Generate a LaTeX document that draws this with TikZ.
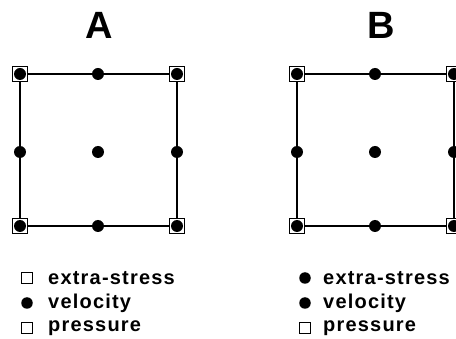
\documentclass[tikz,border=0pt]{standalone}
\usepackage{fontspec}
\setmainfont{Liberation Sans}[LetterSpace=6]
\usetikzlibrary{positioning}

\begin{document}
\begin{tikzpicture}[
  x=1pt, y=-1pt,
  edge/.style={line width=2pt},
  dot/.style={circle, fill=black, inner sep=0pt, minimum size=12pt},
  sqmark/.style={draw, line width=1.8pt, inner sep=0pt, minimum size=15pt},
  keysq/.style={draw, line width=1.6pt, inner sep=0pt, minimum size=11pt},
  keydot/.style={circle, fill=black, inner sep=0pt, minimum size=11.5pt},
  title/.style={font=\fontsize{38}{42}\selectfont\bfseries},
  keytext/.style={font=\fontsize{20}{23}\selectfont\bfseries, anchor=west, inner sep=0pt}
]
\useasboundingbox (0,0) rectangle (456,339);

% element A
\node[title] (ta) at (99,25) {A};
\node[sqmark] (a1) at (20,74) {};
\node[sqmark] (a2) at (177,74) {};
\node[sqmark] (a3) at (177,226) {};
\node[sqmark] (a4) at (20,226) {};
\draw[edge] (a1) -- (a2) -- (a3) -- (a4) -- (a1);
\node[dot] at (a1) {};
\node[dot] at (a2) {};
\node[dot] at (a3) {};
\node[dot] at (a4) {};
\node[dot] (am1) at (98,74) {};
\node[dot] (am2) at (177,152) {};
\node[dot] (am3) at (98,226) {};
\node[dot] (am4) at (20,152) {};
\node[dot] (ac) at (98,152) {};

% element B
\node[title] (tb) at (381,25) {B};
\node[sqmark] (b1) at (297,74) {};
\node[sqmark] (b2) at (454,74) {};
\node[sqmark] (b3) at (454,226) {};
\node[sqmark] (b4) at (297,226) {};
\draw[edge] (b1) -- (b2) -- (b3) -- (b4) -- (b1);
\node[dot] at (b1) {};
\node[dot] at (b2) {};
\node[dot] at (b3) {};
\node[dot] at (b4) {};
\node[dot] (bm1) at (375,74) {};
\node[dot] (bm2) at (454,152) {};
\node[dot] (bm3) at (375,226) {};
\node[dot] (bm4) at (297,152) {};
\node[dot] (bc) at (375,152) {};

% legend A
\node[keysq] (ka1) at (27,278) {};
\node[keydot] (ka2) at (27,303) {};
\node[keysq] (ka3) at (27,328) {};
\node[keytext] at (48,278) {extra-stress};
\node[keytext] at (48,303) {velocity};
\node[keytext] at (48,328) {pressure};

% legend B
\node[keydot] (kb1) at (305,278) {};
\node[keydot] (kb2) at (305,303) {};
\node[keysq] (kb3) at (305,328) {};
\node[keytext] at (323,278) {extra-stress};
\node[keytext] at (323,303) {velocity};
\node[keytext] at (323,328) {pressure};
\end{tikzpicture}
\end{document}
